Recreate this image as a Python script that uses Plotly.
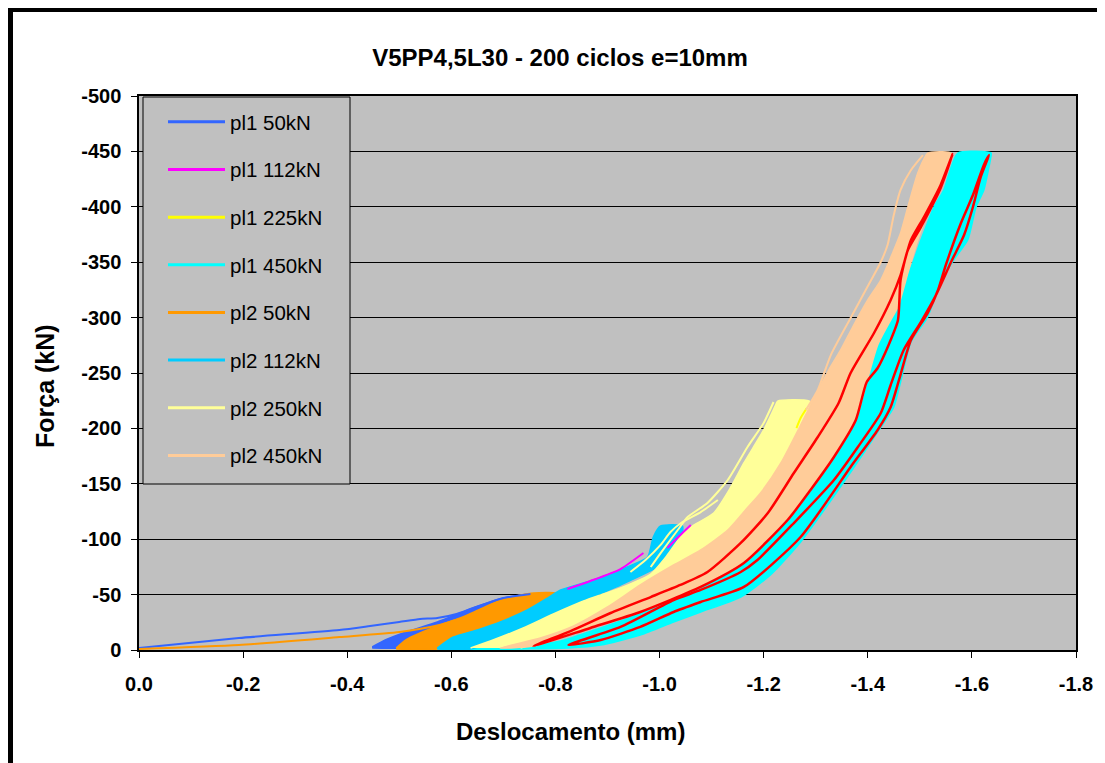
import plotly.graph_objects as go

# ---------------- axis ticks ----------------
x_tick_vals = [0, -0.2, -0.4, -0.6, -0.8, -1.0, -1.2, -1.4, -1.6, -1.8]
x_tick_text = ["0.0", "-0.2", "-0.4", "-0.6", "-0.8", "-1.0", "-1.2", "-1.4", "-1.6", "-1.8"]
y_tick_vals = [0, -50, -100, -150, -200, -250, -300, -350, -400, -450, -500]
y_tick_text = ["0", "-50", "-100", "-150", "-200", "-250", "-300", "-350", "-400", "-450", "-500"]

series_names = ["pl1 50kN", "pl1 112kN", "pl1 225kN", "pl1 450kN",
                "pl2 50kN", "pl2 112kN", "pl2 250kN", "pl2 450kN"]
series_colors = ["#3366FF", "#FF00FF", "#FFFF00", "#00FFFF",
                 "#FF9900", "#00CCFF", "#FFFF99", "#FFCC99"]

# ---------------- pl1 50kN ----------------
pl1_50_band_x = [-0.448, -0.473, -0.513, -0.573, -0.637, -0.700, -0.758, -0.733, -0.675, -0.617, -0.560, -0.500, -0.448]
pl1_50_band_y = [-2.7, -9.0, -16.2, -25.3, -37.0, -46.9, -50.5, -43.3, -31.6, -18.1, -7.2, -1.8, -1.8]
pl1_50_line_x = [0, -0.192, -0.385, -0.444, -0.500, -0.540, -0.573, -0.610, -0.642, -0.700, -0.752]
pl1_50_line_y = [-1.8, -10.8, -18.1, -21.7, -25.3, -28.0, -28.9, -32.5, -37.9, -46.9, -50.5]

# ---------------- pl1 112kN (visible streaks) ----------------
pl1_112_line_x = [-0.823, -0.867, -0.925, -0.969, None, -1.015, -1.040, -1.060]
pl1_112_line_y = [-55.1, -62.3, -73.1, -87.5, None, -92.1, -103.8, -112.8]

# ---------------- pl1 225kN (visible streak) ----------------
pl1_225_line_x = [-1.263, -1.271, -1.283]
pl1_225_line_y = [-200.3, -209.4, -218.4]

# ---------------- pl1 450kN ----------------
pl1_450_band_x = [-0.598, -0.733, -0.825, -0.887, -0.963, -1.027, -1.079, -1.156, -1.213, -1.271,
                  -1.354, -1.419, -1.450, -1.463, -1.483, -1.515, -1.540, -1.565, -1.592, -1.608,
                  -1.623, -1.637, -1.637, -1.573, -1.546, -1.527, -1.502, -1.483, -1.463, -1.450,
                  -1.431, -1.412, -1.390, -1.371, -1.335, -1.290, -1.246, -1.162, -1.079, -0.983,
                  -0.887, -0.810, -0.733, -0.598]
pl1_450_band_y = [0, -0.9, -1.8, -4.5, -13.5, -25.3, -34.3, -47.8, -67.7, -97.5,
                  -151.6, -196.7, -219.3, -241.9, -278.0, -300.5, -332.1, -352.0, -370.0, -399.8,
                  -415.2, -446.7, -448.5, -448.5, -415.2, -399.8, -370.0, -345.6, -331.2, -315.9,
                  -291.5, -268.0, -243.7, -216.6, -174.2, -144.4, -117.3, -78.5, -55.1, -36.1,
                  -19.9, -8.1, -3.6, -1.8]

# ---------------- pl2 50kN ----------------
pl2_50_band_x = [-0.494, -0.512, -0.540, -0.579, -0.617, -0.656, -0.700, -0.758, -0.800, -0.781,
                 -0.733, -0.675, -0.617, -0.573, -0.494]
pl2_50_band_y = [-1.8, -9.0, -15.3, -22.6, -28.9, -37.0, -46.0, -51.4, -51.4, -44.2,
                 -31.6, -18.1, -6.3, -0.9, -0.9]
pl2_50_line_x = [0, -0.192, -0.385, -0.500, -0.577, -0.615]
pl2_50_line_y = [-0.9, -4.5, -11.7, -16.2, -22.6, -28.0]

# ---------------- pl2 112kN ----------------
pl2_112_band_x = [-0.573, -0.604, -0.650, -0.694, -0.746, -0.785, -0.810, -0.873, -0.938, -0.977,
                  -0.988, -1.002, -1.044, -1.040, -1.002, -0.925, -0.848, -0.771, -0.694, -0.637, -0.573]
pl2_112_band_y = [-1.8, -11.7, -18.1, -25.3, -36.1, -46.9, -54.2, -63.2, -74.9, -83.9,
                  -102.0, -111.9, -111.9, -99.3, -76.7, -58.7, -43.3, -27.1, -9.0, -0.9, -0.9]

# ---------------- pl2 250kN ----------------
pl2_250_band_x = [-0.637, -0.675, -0.738, -0.796, -0.854, -0.925, -0.983, -1.015, -1.040, -1.060,
                  -1.104, -1.137, -1.162, -1.200, -1.223, -1.227, -1.287, -1.300, -1.281, -1.252,
                  -1.213, -1.165, -1.098, -1.002, -0.906, -0.810, -0.733]
pl2_250_band_y = [-1.8, -8.1, -19.9, -32.5, -44.2, -56.0, -68.6, -85.7, -102.0, -111.0,
                  -123.6, -147.1, -168.8, -198.6, -221.1, -224.7, -224.7, -216.6, -198.6, -176.0,
                  -148.9, -121.8, -94.8, -63.2, -36.1, -13.5, -1.8]
pl2_250_line_x = [-0.983, -1.002, -1.035, -1.054, -1.092, -1.131, -1.169, -1.200, -1.219, None,
                  -0.944, -0.973, -1.002, -1.021, -1.044, -1.079, -1.112]
pl2_250_line_y = [-74.9, -87.5, -108.3, -120.0, -132.7, -153.4, -183.2, -204.9, -223.8, None,
                  -70.4, -81.2, -94.8, -106.5, -115.5, -124.5, -135.4]

# ---------------- pl2 450kN ----------------
pl2_450_band_x = [-0.694, -0.771, -0.835, -0.900, -0.963, -1.027, -1.079, -1.131, -1.165, -1.194,
                  -1.233, -1.271, -1.300, -1.325, -1.348, -1.371, -1.400, -1.425, -1.450, -1.463,
                  -1.477, -1.496, -1.512, -1.515, -1.560, -1.540, -1.515, -1.496, -1.477, -1.458,
                  -1.444, -1.419, -1.398, -1.377, -1.335, -1.290, -1.246, -1.162, -1.079, -0.963,
                  -0.867, -0.758, -0.694]
pl2_450_band_y = [-1.8, -10.8, -21.7, -38.8, -58.7, -76.7, -90.3, -108.3, -126.4, -141.7,
                  -168.8, -203.1, -230.1, -252.7, -270.8, -291.5, -315.9, -333.9, -361.0, -376.3,
                  -399.8, -430.5, -446.7, -448.5, -448.5, -417.9, -394.4, -370.0, -340.2, -309.6,
                  -297.8, -275.3, -241.9, -207.6, -174.2, -144.4, -117.3, -78.5, -56.9, -34.3,
                  -19.9, -3.6, -1.8]
pl2_450_line_x = [-1.281, -1.304, -1.329, -1.367, -1.396, -1.425, -1.438, -1.450, -1.463, -1.483, -1.506]
pl2_450_line_y = [-216.6, -234.7, -266.2, -299.6, -324.9, -350.2, -365.5, -392.6, -415.2, -433.2, -446.7]

# ---------------- red cycles (not in legend) ----------------
red_loop1_x = [-0.758, -0.829, -0.906, -0.983, -1.040, -1.092, -1.156, -1.208, -1.258, -1.304,
               -1.344, -1.367, -1.412, -1.444, -1.463, -1.483, -1.508, -1.540, -1.563,
               -1.540, -1.502, -1.477, -1.463, -1.458, -1.440, -1.419, -1.398, -1.377, -1.335,
               -1.290, -1.246, -1.162, -1.079, -0.963, -0.867, -0.758]
red_loop1_y = [-3.6, -17.1, -33.4, -47.8, -58.7, -70.4, -96.6, -123.6, -159.7, -192.2,
               -222.9, -250.0, -286.1, -315.9, -338.4, -370.0, -390.8, -419.7, -447.6,
               -417.0, -381.7, -361.0, -333.9, -297.8, -275.3, -254.5, -241.9, -207.6, -174.2,
               -144.4, -117.3, -78.5, -56.9, -34.3, -19.9, -3.6]
red_loop2_x = [-0.825, -0.925, -1.027, -1.079, -1.156, -1.188, -1.258, -1.335, -1.381, -1.425,
               -1.444, -1.469, -1.502, -1.531, -1.560, -1.585, -1.602, -1.617, -1.633,
               -1.623, -1.602, -1.579, -1.550, -1.535, -1.515, -1.483, -1.460, -1.444, -1.419,
               -1.367, -1.271, -1.162, -1.079, -1.027, -0.963, -0.887, -0.825]
red_loop2_y = [-4.5, -20.8, -45.1, -54.2, -70.4, -81.2, -114.6, -153.4, -183.2, -213.9,
               -239.2, -270.8, -296.0, -320.4, -350.2, -374.5, -399.8, -426.9, -446.7,
               -437.7, -410.6, -385.4, -347.5, -324.9, -304.1, -279.8, -243.7, -219.3, -198.6,
               -165.2, -102.0, -56.9, -43.3, -34.3, -20.8, -9.0, -4.5]

bands = [
    (0, pl1_50_band_x, pl1_50_band_y),
    (3, pl1_450_band_x, pl1_450_band_y),
    (4, pl2_50_band_x, pl2_50_band_y),
    (5, pl2_112_band_x, pl2_112_band_y),
    (6, pl2_250_band_x, pl2_250_band_y),
    (7, pl2_450_band_x, pl2_450_band_y),
]
lines = [
    (0, pl1_50_line_x, pl1_50_line_y),
    (1, pl1_112_line_x, pl1_112_line_y),
    (2, pl1_225_line_x, pl1_225_line_y),
    (4, pl2_50_line_x, pl2_50_line_y),
    (6, pl2_250_line_x, pl2_250_line_y),
    (7, pl2_450_line_x, pl2_450_line_y),
]

fig = go.Figure()

# filled bands of overlapping cycles
for idx, bx, by in bands:
    fig.add_trace(go.Scatter(
        x=bx, y=by, mode="lines", fill="toself",
        fillcolor=series_colors[idx],
        line=dict(color=series_colors[idx], width=1.5, shape="spline", smoothing=0.6),
        legendgroup=series_names[idx], showlegend=False, hoverinfo="skip"))

# individual visible cycles
for idx, lx, ly in lines:
    fig.add_trace(go.Scatter(
        x=lx, y=ly, mode="lines",
        line=dict(color=series_colors[idx], width=2, shape="spline", smoothing=0.6),
        legendgroup=series_names[idx], showlegend=False, hoverinfo="skip"))

# red cycles on top
for rx, ry in [(red_loop1_x, red_loop1_y), (red_loop2_x, red_loop2_y)]:
    fig.add_trace(go.Scatter(
        x=rx, y=ry, mode="lines",
        line=dict(color="#FF0000", width=2.5, shape="spline", smoothing=0.6),
        showlegend=False, hoverinfo="skip"))

# legend entries
for name, color in zip(series_names, series_colors):
    fig.add_trace(go.Scatter(
        x=[None], y=[None], mode="lines", name=name,
        line=dict(color=color, width=3), legendgroup=name))

# page geometry (the page body adds an 8 px offset)
OFF = 8
W, H = 1105 - OFF, 763 - OFF
PLOT_L, PLOT_R, PLOT_T, PLOT_B = 139, 1076, 96, 650   # page pixels of plot area
pw, ph = PLOT_R - PLOT_L, PLOT_B - PLOT_T


def px_x(p):
    return (p - PLOT_L) / pw


def px_y(p):
    return (PLOT_B - p) / ph


fig.update_layout(
    width=W, height=H,
    margin=dict(l=PLOT_L - OFF, r=W - (PLOT_R - OFF), t=PLOT_T - OFF, b=H - (PLOT_B - OFF)),
    paper_bgcolor="white",
    plot_bgcolor="#C0C0C0",
    font=dict(family="Liberation Sans, Arial, sans-serif", color="black"),
    title=dict(text="V5PP4,5L30 - 200 ciclos e=10mm",
               x=(560 - OFF) / W, xanchor="center", y=1 - (58 - OFF) / H, yanchor="middle",
               font=dict(size=24, weight="bold")),
    showlegend=True,
    legend=dict(x=px_x(163), y=px_y(102), xanchor="left", yanchor="top",
                bgcolor="rgba(0,0,0,0)", borderwidth=0,
                font=dict(size=20.5), tracegroupgap=18, itemwidth=57),
    xaxis=dict(range=[0, -1.8], tickvals=x_tick_vals, ticktext=x_tick_text,
               showgrid=False, zeroline=False, showline=True, linecolor="black",
               linewidth=2, mirror=True, ticks="outside", ticklen=6, tickcolor="black",
               tickfont=dict(size=20, weight="bold"), ticklabelstandoff=9),
    yaxis=dict(range=[0, -500], tickvals=y_tick_vals, ticktext=y_tick_text,
               showgrid=True, gridcolor="black", gridwidth=1, zeroline=False,
               showline=True, linecolor="black", linewidth=1.5, mirror=True,
               ticks="outside", ticklen=6, tickcolor="black",
               tickfont=dict(size=20, weight="bold"), ticklabelstandoff=6),
    annotations=[
        dict(text="Deslocamento (mm)", xref="paper", yref="paper",
             x=px_x(570), y=px_y(731), xanchor="center", yanchor="middle",
             showarrow=False, font=dict(size=24, weight="bold")),
        dict(text="Força (kN)", xref="paper", yref="paper",
             x=px_x(45), y=px_y(386), xanchor="center", yanchor="middle",
             textangle=-90, showarrow=False, font=dict(size=25, weight="bold")),
    ],
    shapes=[
        # legend box
        dict(type="rect", xref="paper", yref="paper",
             x0=px_x(143), x1=px_x(350), y0=px_y(484), y1=px_y(97),
             fillcolor="#C0C0C0", line=dict(color="black", width=1), layer="above"),
        # chart-area frame
        dict(type="rect", xref="paper", yref="paper",
             x0=px_x(10.5), x1=px_x(1120), y0=px_y(790), y1=px_y(9.5),
             fillcolor="rgba(0,0,0,0)", line=dict(color="black", width=5), layer="above"),
    ],
)

fig.write_html("out.html")
